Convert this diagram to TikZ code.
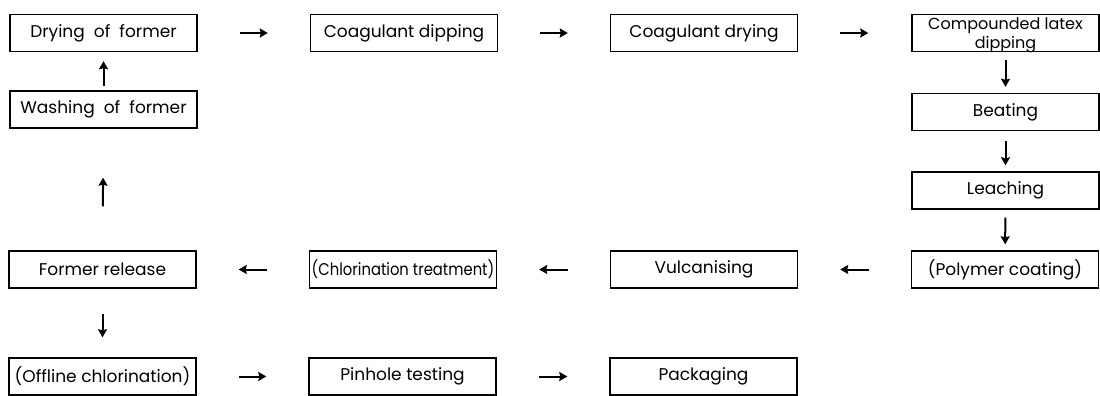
\documentclass[tikz,border=0pt]{standalone}
\usepackage{fontspec}
\usepackage{graphicx}
\setmainfont{Poppins}
\usetikzlibrary{arrows.meta}
\begin{document}
\begin{tikzpicture}[x=1pt,y=-1pt,
  stepbox/.style={draw=black,line width=1.4pt,rectangle,minimum width=187pt,minimum height=37pt,inner sep=0pt,font=\fontsize{17}{17}\selectfont,text=black},
  flow/.style={line width=2pt,-{Stealth[length=8pt,width=9pt,inset=1pt]}}]
\useasboundingbox (0,0) rectangle (1100,396);
% row 1
\node[stepbox] (dry) at (103.5,33) {Drying~ of~ former};
\node[stepbox] (cdip) at (404,33) {Coagulant dipping};
\node[stepbox] (cdry) at (704,33) {Coagulant drying};
\node[stepbox,font=\fontsize{16}{19}\selectfont] (latex) at (1005.5,33) {\raisebox{-5pt}[10pt][6pt]{\begin{tabular}{@{}c@{}}Compounded latex\\dipping\end{tabular}}};
% column right
\node[stepbox] (beat) at (1005.5,112) {Beating};
\node[stepbox] (leach) at (1005.5,190.5) {Leaching};
\node[stepbox] (poly) at (1005,269.5) {(Polymer coating)};
% row 4
\node[stepbox] (vulc) at (704,269.5) {Vulcanising};
\node[stepbox] (chlor) at (403,269.5) {\scalebox{0.87}[1]{(Chlorination treatment)}};
\node[stepbox] (rel) at (102.5,269.5) {Former release};
% left column
\node[stepbox] (wash) at (103.5,109.5) {Washing~ of~ former};
% row 5
\node[stepbox] (off) at (102.5,376.5) {(Offline chlorination)};
\node[stepbox] (pin) at (402.5,376.5) {Pinhole testing};
\node[stepbox] (pack) at (703.5,376.5) {Packaging};
% connectors
\draw[flow,shorten <=42pt,shorten >=42pt] (dry) -- (cdip);
\draw[flow,shorten <=42pt,shorten >=42pt] (cdip) -- (cdry);
\draw[flow,shorten <=42pt,shorten >=43pt] (cdry) -- (latex);
\draw[flow,shorten <=8pt,shorten >=6pt] (latex) -- (beat);
\draw[flow,shorten <=10pt,shorten >=6pt] (beat) -- (leach);
\draw[flow,shorten <=8pt,shorten >=6pt] (leach) -- (poly);
\draw[flow,shorten <=42pt,shorten >=42pt] (poly) -- (vulc);
\draw[flow,shorten <=42pt,shorten >=42pt] (vulc) -- (chlor);
\draw[flow,shorten <=42pt,shorten >=42pt] (chlor) -- (rel);
\draw[flow,shorten <=44pt,shorten >=49pt] (rel) -- (wash);
\draw[flow,shorten <=4pt,shorten >=9pt] (wash) -- (dry);
\draw[flow,shorten <=25pt,shorten >=20pt] (rel) -- (off);
\draw[flow,shorten <=42pt,shorten >=42pt] (off) -- (pin);
\draw[flow,shorten <=42pt,shorten >=42pt] (pin) -- (pack);
\end{tikzpicture}
\end{document}
